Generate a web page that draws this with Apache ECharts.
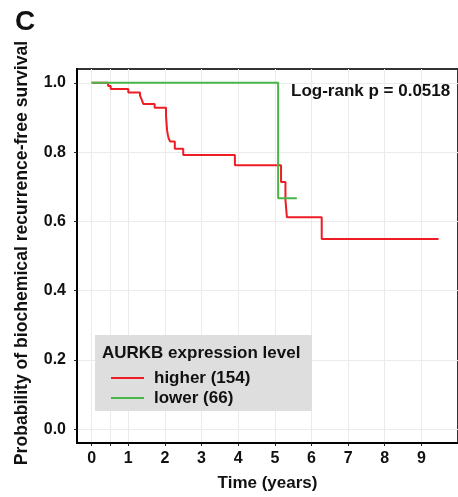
<!DOCTYPE html>
<html>
<head>
<meta charset="utf-8">
<script src="https://cdn.jsdelivr.net/npm/echarts@6/dist/echarts.min.js"></script>
<style>
  html, body { margin: 0; padding: 0; background: #fff; }
  #chart { width: 458px; height: 497px; }
</style>
</head>
<body>
<div id="chart"></div>
<script>
// Kaplan-Meier steps: [time (years), survival]
const higherCurve = [
  [0, 1], [0.45, 0.991], [0.52, 0.982], [1.0, 0.972], [1.32, 0.963], [1.36, 0.953],
  [1.41, 0.939], [1.72, 0.928], [2.03, 0.905], [2.04, 0.89], [2.05, 0.875], [2.06, 0.862],
  [2.08, 0.85], [2.10, 0.84], [2.14, 0.831], [2.27, 0.81], [2.5, 0.792], [3.91, 0.762],
  [5.17, 0.714], [5.29, 0.662], [5.33, 0.612], [6.28, 0.549], [9.47, 0.549]
];
const lowerCurve = [[0, 1], [5.09, 0.667], [5.6, 0.667]];

const seriesNames = ['higher (154)', 'lower (66)'];
const seriesColors = ['#ee1d25', '#48b649'];
const xTicks = [0, 0.5, 1, 2, 3, 4, 5, 6, 7, 8, 9];
const xLabels = [0, 1, 2, 3, 4, 5, 6, 7, 8, 9];
const yTicks = [0, 0.2, 0.4, 0.6, 0.8, 1.0];

const font = "'Liberation Sans', Arial, sans-serif";
const chart = echarts.init(document.getElementById('chart'), null, { renderer: 'canvas' });

const option = {
  animation: false,
  backgroundColor: '#fff',
  textStyle: { fontFamily: font },
  title: {
    text: 'C',
    left: 10,
    top: 3,
    textStyle: { fontSize: 28, fontWeight: 'bold', color: '#111', fontFamily: font }
  },
  grid: {
    left: 77, right: -10, top: 69, bottom: 45,
    show: true, borderColor: '#333', borderWidth: 2, backgroundColor: 'transparent'
  },
  xAxis: {
    type: 'value',
    min: -0.4,
    max: 10,
    name: 'Time (years)',
    nameLocation: 'middle',
    nameGap: 32,
    nameTextStyle: { fontSize: 17, fontWeight: 'bold', color: '#111' },
    axisLine: { show: true, onZero: false, lineStyle: { color: '#000', width: 2 } },
    axisTick: { show: true, length: 3, customValues: xTicks, lineStyle: { color: '#222' } },
    axisLabel: { customValues: xLabels, fontSize: 16, fontWeight: 'bold', color: '#111', margin: 8 },
    splitLine: { show: true, lineStyle: { color: '#ebebeb', width: 1 } }
  },
  yAxis: {
    type: 'value',
    min: -0.04,
    max: 1.04,
    axisLine: { show: true, onZero: false, lineStyle: { color: '#000', width: 2 } },
    axisTick: { show: true, length: 3, customValues: yTicks, lineStyle: { color: '#222' } },
    axisLabel: {
      customValues: yTicks, fontSize: 16, fontWeight: 'bold', color: '#111', margin: 11,
      formatter: v => v.toFixed(1)
    },
    splitLine: { show: true, lineStyle: { color: '#ebebeb', width: 1 } }
  },
  legend: {
    orient: 'vertical',
    left: 106,
    top: 363,
    z: 10,
    icon: 'rect',
    itemWidth: 33,
    itemHeight: 2,
    itemGap: 0,
    data: seriesNames,
    textStyle: { fontSize: 17, fontWeight: 'bold', color: '#111', lineHeight: 20, padding: [0, 0, 0, 5] }
  },
  graphic: [
    { type: 'rect', left: 95, top: 335, z: 5, shape: { width: 217, height: 76 }, style: { fill: '#dedede' } },
    {
      type: 'text', left: 102, top: 345, z: 6,
      style: { text: 'AURKB expression level', font: 'bold 17px ' + font, fill: '#111' }
    },
    {
      type: 'text', left: 291, top: 83, z: 6,
      style: { text: 'Log-rank p = 0.0518', font: 'bold 17px ' + font, fill: '#111' }
    },
    {
      type: 'text', x: 22, y: 253, rotation: Math.PI / 2, z: 6,
      style: {
        text: 'Probability of biochemical recurrence-free survival',
        font: 'bold 17.6px ' + font, fill: '#111', align: 'center', verticalAlign: 'middle'
      }
    }
  ],
  series: [
    {
      name: seriesNames[0], type: 'line', step: 'end', data: higherCurve,
      showSymbol: false, color: seriesColors[0], lineStyle: { width: 2 }, z: 3
    },
    {
      name: seriesNames[1], type: 'line', step: 'end', data: lowerCurve,
      showSymbol: false, color: seriesColors[1], lineStyle: { width: 2 }, z: 4
    }
  ]
};

chart.setOption(option);
</script>
</body>
</html>
